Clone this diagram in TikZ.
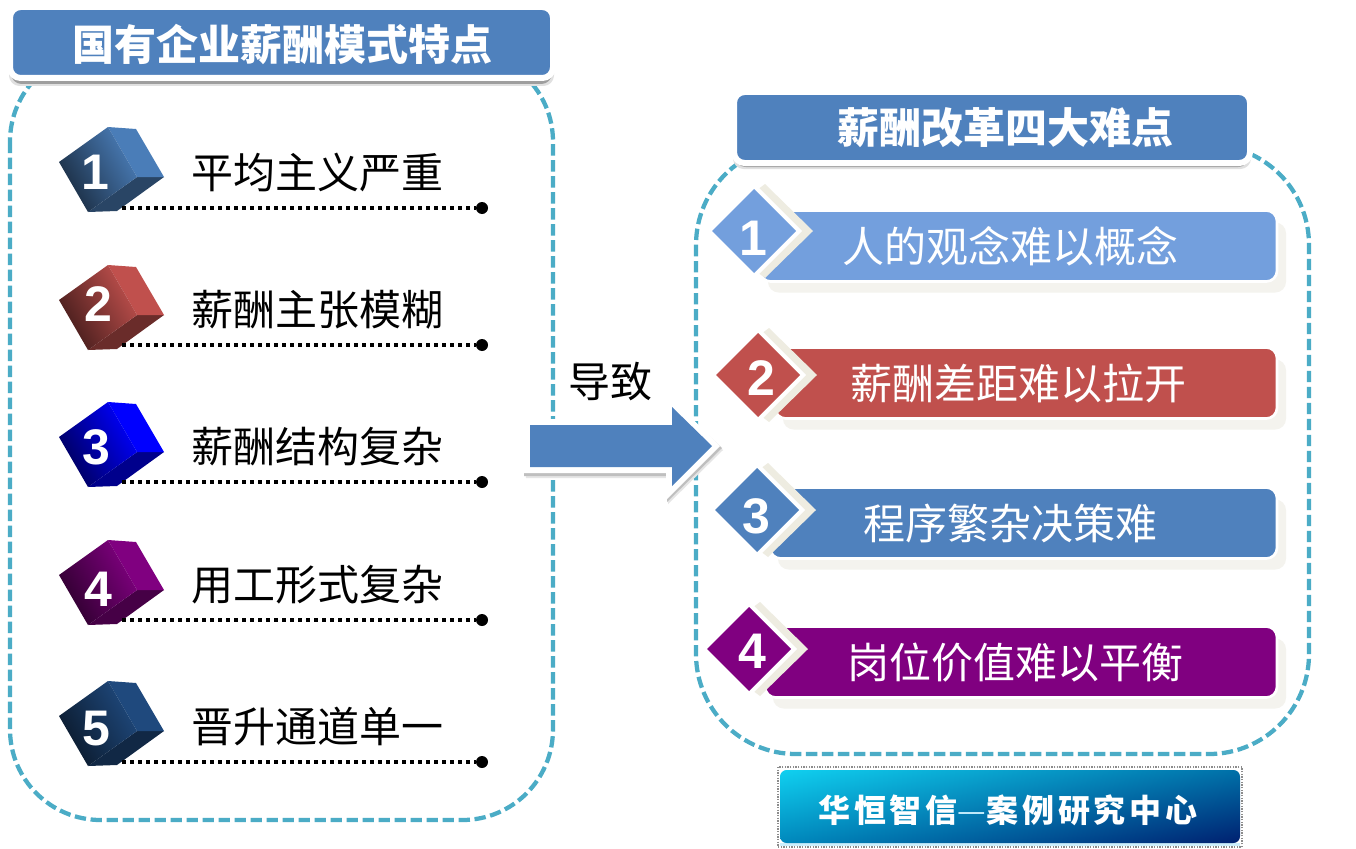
\documentclass[tikz,border=0pt]{standalone}
\usepackage{fontspec}
\setmainfont{Liberation Sans}
\newfontfamily\cjk{Noto Sans CJK SC}
\newfontfamily\cjkfoot[LetterSpace=12]{Noto Sans CJK SC}
\usetikzlibrary{calc,shadings}
\definecolor{tealdash}{HTML}{4BACC6}
\definecolor{titleblue}{HTML}{4F81BD}
\definecolor{barlight}{HTML}{739FDD}
\definecolor{barred}{HTML}{C0504D}
\definecolor{barpurple}{HTML}{800080}
\definecolor{beige}{HTML}{EEECE1}
\definecolor{softbeige}{HTML}{F4F3EE}
\definecolor{cubeblue}{HTML}{4A7DB8}
\definecolor{cubenavy}{HTML}{1F497D}
\definecolor{pureblue}{HTML}{0000FF}
\definecolor{btnul}{HTML}{10D0F0}
\definecolor{btnur}{HTML}{0070A8}
\definecolor{btnll}{HTML}{0088BC}
\definecolor{btnlr}{HTML}{002070}
\tikzset{
  dashbox/.style={draw=tealdash,line width=3.2pt,dash pattern=on 8.5pt off 3.5pt,rounded corners=68pt},
  titlebox/.style={fill=titleblue,draw=white,line width=4.5pt,rounded corners=8pt,line join=round},
  softshadow/.style={fill=black!12,rounded corners=8pt},
  titleshadow/.style={fill=black!38,rounded corners=8pt},
  titletext/.style={font=\cjk\fontsize{31.5pt}{36pt}\selectfont\bfseries,text=white,inner sep=0pt},
  rowtext/.style={font=\cjk\fontsize{31.5pt}{36pt}\selectfont,text=black,inner sep=0pt},
  bartext/.style={font=\cjk\fontsize{31.5pt}{36pt}\selectfont,text=white,inner sep=0pt},
  digit/.style={font=\fontsize{37.5pt}{40pt}\selectfont\bfseries,text=white,inner sep=0pt},
  leader/.style={line width=3pt,dash pattern=on 3pt off 3pt,black},
  enddot/.style={circle,fill=black,inner sep=0pt,minimum size=9pt},
}
% #1 name, #2 dy, #3 colour, #4 digit, #5 digit position within the row, #6 label, #7 line y
\newcommand{\cuberow}[7]{%
  \begin{scope}[yshift=#2*-0.75pt]
    \fill[#3!55!black] (88,212) -- (137,177) -- (164,177) -- (117,211) -- cycle;
    \fill[#3] (108,127) -- (136,129) -- (164,177) -- (137,177) -- cycle;
    \shade[left color=#3!35!black,middle color=#3,right color=#3,shading angle=120] (59,162) -- (108,127) -- (137,177) -- (88,212) -- cycle;
    \node[digit] (d#1) at (#5) {#4};
    \node[rowtext,anchor=west] (t#1) at (191,172) {\cjk #6};
  \end{scope}
  \coordinate (ls#1) at (122,#7);
  \node[enddot] (le#1) at (482,#7) {};
  \draw[leader] (ls#1) -- (le#1);
}
% #1 name, #2 top y, #3 bar left, #4 colour, #5 cx, #6 cy, #7 digit position, #8 label, #9 label x
\newcommand{\barrow}[9]{%
  \fill[softbeige,rounded corners=8pt] (#3+8,#2+12) rectangle (1286,#2+82);
  \fill[#4,draw=white,line width=2pt,rounded corners=8pt] (#3,#2) rectangle (1277,#2+71);
  \fill[beige] (#5+11,#6-47) -- (#5+59,#6) -- (#5+11,#6+47) -- (#5+3,#6+41) -- (#5+46,#6) -- (#5+3,#6-41) -- cycle;
  \fill[white] (#5+3,#6-45) -- (#5+48,#6) -- (#5+3,#6+45) -- (#5-3,#6) -- cycle;
  \fill[#4] (#5-42,#6) -- (#5,#6-42) -- (#5+42,#6) -- (#5,#6+42) -- cycle;
  \node[digit] (n#1) at (#7) {\csname digit#1\endcsname};
  \node[bartext] (b#1) at (#9,#2+36) {#8};
}
\newcommand{\digita}{1}
\newcommand{\digitb}{2}
\newcommand{\digitc}{3}
\newcommand{\digite}{4}
\begin{document}
\begin{tikzpicture}[x=0.75pt,y=-0.75pt]
\useasboundingbox (0,0) rectangle (1356,849);
\fill[white] (0,0) rectangle (1356,849);
% left panel
\draw[dashbox] (10,51) rectangle (553,820);
\fill[softshadow] (9,60) rectangle (554,86);
\fill[titleshadow] (11,60) rectangle (552,84);
\draw[titlebox] (10,7) rectangle (553,78);
\node[titletext] (ltitle) at (282,44) {国有企业薪酬模式特点};
\cuberow{a}{0}{cubeblue}{1}{95,172}{平均主义严重}{208}
\cuberow{b}{138}{barred}{2}{98,166}{薪酬主张模糊}{345}
\cuberow{c}{275}{pureblue}{3}{96,172}{薪酬结构复杂}{482}
\cuberow{e}{413}{barpurple}{4}{98,176}{用工形式复杂}{620}
\cuberow{f}{554}{cubenavy}{5}{96,175}{晋升通道单一}{762}
% right panel
\draw[dashbox,rounded corners=75pt] (696,145) rectangle (1309,754);
\fill[softshadow] (733,145) rectangle (1251,169);
\fill[titleshadow] (735,145) rectangle (1249,167);
\draw[titlebox] (734,92) rectangle (1250,163);
\node[titletext] (rtitle) at (1005,128) {薪酬改革四大难点};
\barrow{a}{210.5}{760}{barlight}{754}{231}{753,238}{人的观念难以概念}{1010}
\barrow{b}{347.5}{775}{barred}{758}{375}{761,378}{薪酬差距难以拉开}{1018}
\barrow{c}{487.5}{770}{titleblue}{757}{510}{756,516}{程序繁杂决策难}{1010}
\barrow{e}{626.5}{765}{barpurple}{749}{649}{752,651}{岗位价值难以平衡}{1015}
% arrow
\node[rowtext] (cause) at (610,382) {导致};
\fill[black!10] (524,425) -- (668,425) -- (668,399) -- (723,450) -- (668,504) -- (668,478) -- (526,478) -- cycle;
\fill[black!25] (524,423) -- (667,423) -- (667,397) -- (722,448) -- (667,502) -- (667,476) -- (524,476) -- cycle;
\fill[white] (524,419) -- (666,419) -- (666,393) -- (720,446) -- (666,500) -- (666,473) -- (524,473) -- cycle;
\fill[titleblue] (530,425) -- (672,425) -- (672,407) -- (712,446) -- (672,486) -- (672,467) -- (530,467) -- cycle;
% footer
\draw[black!45,line width=1pt,densely dotted] (778,767) rectangle (1242,847);
\fill[cyan!20] (780,843) rectangle (1240,846);
\shade[rounded corners=5pt,upper left=btnul,upper right=btnur,lower left=btnll,lower right=btnlr] (780,770) rectangle (1240,843);
\node[font=\cjkfoot\fontsize{24pt}{28pt}\selectfont\bfseries,text=white,inner sep=0pt] (foot) at (1008,810) {华恒智信{\mdseries\color{white!75!cyan}—}案例研究中心};
\end{tikzpicture}
\end{document}
